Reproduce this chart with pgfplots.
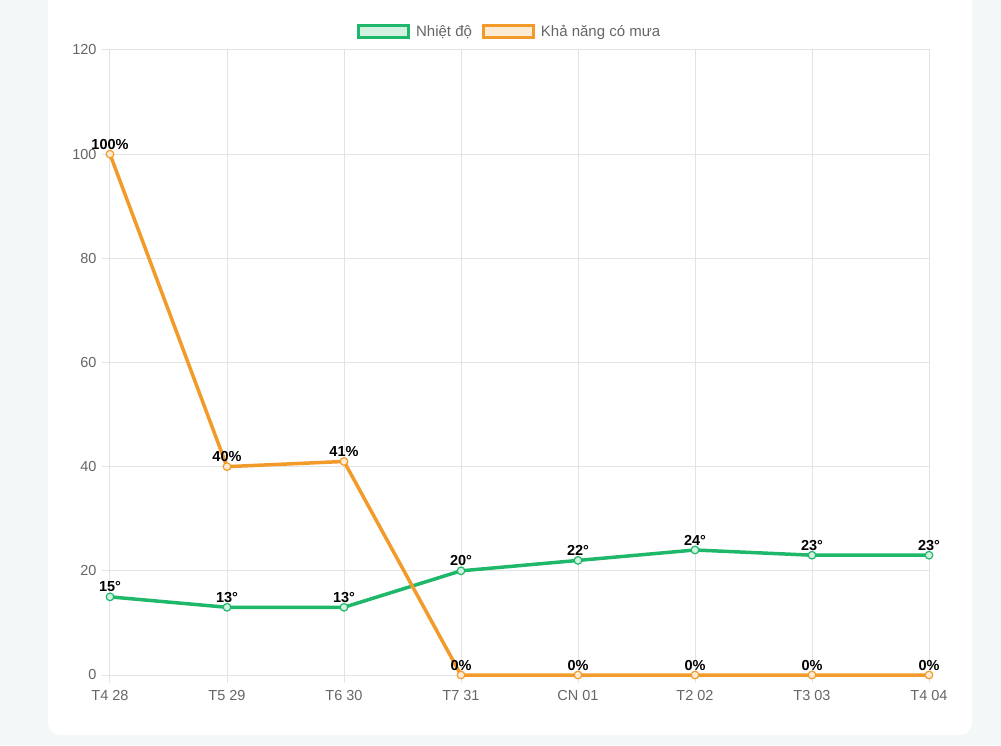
\documentclass[border=0pt]{standalone}
\usepackage{fontspec}
\setmainfont{Liberation Sans}
\usepackage{pgfplots}
\pgfplotsset{compat=1.18}
\definecolor{bg}{HTML}{F3F7F8}
\definecolor{tgreen}{HTML}{1FB86B}
\definecolor{tgreenl}{HTML}{D2F1E1}
\definecolor{rorange}{HTML}{F29B2A}
\definecolor{rorangel}{HTML}{FDEBD4}
\definecolor{gridc}{HTML}{E3E3E3}
\definecolor{tickc}{HTML}{666666}

\begin{document}
\begin{tikzpicture}
% page is 1001 x 745 (1px = 1pt); axis box lower-left corner at the origin
\useasboundingbox (-110pt,-70pt) rectangle (891pt,675pt);
\clip (-110pt,-70pt) rectangle (891pt,675pt);
\fill[bg] (-110pt,-70pt) rectangle (891pt,675pt);
\fill[white,rounded corners=12pt] (-62pt,-60pt) rectangle (862pt,700pt);
\begin{axis}[
    at={(0pt,0pt)}, anchor=south west,
    scale only axis, width=819pt, height=625pt,
    xmin=0, xmax=7, ymin=0, ymax=120,
    xtick={0,...,7},
    xticklabels={T4 28, T5 29, T6 30, T7 31, CN 01, T2 02, T3 03, T4 04},
    ytick={0,20,...,120},
    /pgf/number format/assume math mode=true,
    axis line style={gridc, line width=1pt},
    grid=major, grid style={gridc, line width=1pt},
    major tick length=8pt, tick align=outside,
    tick style={gridc, line width=1pt},
    xtick pos=left, ytick pos=left,
    tick label style={font=\fontsize{14.5}{16}\selectfont, text=tickc},
    yticklabel style={xshift=-2pt},
    xticklabel style={yshift=-4pt},
    clip=false,
    legend columns=2,
    legend style={at={(0.488,1)}, anchor=south, yshift=8pt, draw=none, fill=none,
        font=\fontsize{15}{17}\selectfont, text=tickc,
        /tikz/every odd column/.append style={column sep=4pt},
        /tikz/every even column/.append style={column sep=8pt}},
    nodes near coords style={font=\bfseries\fontsize{14.5}{16}\selectfont, text=black,
        anchor=base, yshift=5pt, inner sep=0pt},
]
\addplot[tgreen, line width=3.5pt, mark=*, mark size=3.8pt,
    mark options={fill=tgreenl, draw=tgreen, line width=1.2pt},
    nodes near coords={\pgfmathprintnumber{\pgfplotspointmeta}°},
    legend image code/.code={\draw[line width=3pt,draw=tgreen,fill=tgreenl] (0pt,-6pt) rectangle (50pt,6pt);}]
coordinates {(0,15) (1,13) (2,13) (3,20) (4,22) (5,24) (6,23) (7,23)};
\addlegendentry{Nhiệt độ}
\addplot[rorange, line width=3.5pt, mark=*, mark size=3.8pt,
    mark options={fill=rorangel, draw=rorange, line width=1.2pt},
    nodes near coords={\pgfmathprintnumber{\pgfplotspointmeta}\%},
    legend image code/.code={\draw[line width=3pt,draw=rorange,fill=rorangel] (0pt,-6pt) rectangle (50pt,6pt);}]
coordinates {(0,100) (1,40) (2,41) (3,0) (4,0) (5,0) (6,0) (7,0)};
\addlegendentry{Khả năng có mưa}
\end{axis}
\end{tikzpicture}
\end{document}
